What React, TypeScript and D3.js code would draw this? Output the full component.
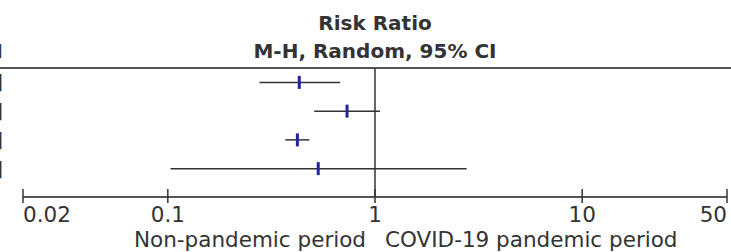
import React, { useEffect, useRef } from "react";
import * as d3 from "d3";

const studies = ["Study 1", "Study 2", "Study 3", "Study 4"];
const estimate = [0.431, 0.733, 0.422, 0.532];
const lower = [0.277, 0.509, 0.369, 0.103];
const upper = [0.679, 1.057, 0.482, 2.77];
const tickValues = [0.02, 0.1, 1, 10, 50];
const tickLabels = ["0.02", "0.1", "1", "10", "50"];
const titleLines = ["Risk Ratio", "M-H, Random, 95% CI"];
const favourLeft = "Non-pandemic period";
const favourRight = "COVID-19 pandemic period";

const W = 731;
const H = 252;

export default function App() {
  const ref = useRef<SVGSVGElement>(null);

  useEffect(() => {
    const svg = d3.select(ref.current);
    svg.selectAll("*").remove();
    const font = "'DejaVu Sans', Verdana, sans-serif";
    const fs = 21.5;

    const x = d3.scaleLog().domain([0.02, 50]).range([23, 727]);
    const y = d3.scaleBand().domain(studies).range([68, 183]).padding(0);
    const rowY = (d: string) => y(d)! + y.bandwidth() / 2;

    // header
    svg.selectAll(".title").data(titleLines).join("text").attr("class", "title")
      .attr("x", x(1)).attr("y", (d, i) => 30 + i * 28).attr("text-anchor", "middle")
      .attr("font-family", font).attr("font-weight", "bold").attr("font-size", 20).attr("fill", "#333")
      .text(d => d);
    // cut-off text of the previous column
    svg.append("text").attr("x", 3).attr("y", 58).attr("text-anchor", "end")
      .attr("font-family", font).attr("font-weight", "bold").attr("font-size", 20).attr("fill", "#333").text("95% CI");
    svg.selectAll(".cut").data(studies).join("text").attr("class", "cut")
      .attr("x", 3).attr("y", d => rowY(d) + 7).attr("text-anchor", "end")
      .attr("font-family", font).attr("font-size", 20).attr("fill", "#333").text("]");

    svg.append("line").attr("x1", 0).attr("x2", W).attr("y1", 68).attr("y2", 68)
      .attr("stroke", "#555").attr("stroke-width", 2);

    // line of no effect
    svg.append("line").attr("x1", x(1)).attr("x2", x(1)).attr("y1", 68).attr("y2", 197)
      .attr("stroke", "#333").attr("stroke-width", 1.5);

    // CIs
    svg.selectAll(".ci").data(studies).join("line").attr("class", "ci")
      .attr("x1", (d, i) => x(lower[i])).attr("x2", (d, i) => x(upper[i]))
      .attr("y1", d => rowY(d)).attr("y2", d => rowY(d))
      .attr("stroke", "#333").attr("stroke-width", 1.5);
    svg.selectAll(".pt").data(studies).join("rect").attr("class", "pt")
      .attr("x", (d, i) => x(estimate[i]) - 1.5).attr("y", d => rowY(d) - 6.5)
      .attr("width", 3).attr("height", 13).attr("fill", "#24249a");

    // axis
    const axis = svg.append("g");
    axis.append("line").attr("x1", x(0.02)).attr("x2", x(50)).attr("y1", 197).attr("y2", 197)
      .attr("stroke", "#555").attr("stroke-width", 2);
    axis.selectAll(".tk").data(tickValues).join("line").attr("class", "tk")
      .attr("x1", d => x(d)).attr("x2", d => x(d)).attr("y1", 189).attr("y2", 203)
      .attr("stroke", "#333").attr("stroke-width", 1.5);
    axis.selectAll(".tl").data(tickValues).join("text").attr("class", "tl")
      .attr("x", d => x(d)).attr("y", 222)
      .attr("text-anchor", (d, i) => (i === 0 ? "start" : i === tickValues.length - 1 ? "end" : "middle"))
      .attr("font-family", font).attr("font-size", fs).attr("fill", "#333")
      .text((d, i) => tickLabels[i]);

    svg.append("text").attr("x", x(1) - 9).attr("y", 247).attr("text-anchor", "end")
      .attr("font-family", font).attr("font-size", fs).attr("fill", "#333").text(favourLeft);
    svg.append("text").attr("x", x(1) + 10).attr("y", 247).attr("text-anchor", "start")
      .attr("font-family", font).attr("font-size", fs).attr("fill", "#333").text(favourRight);
  }, []);

  return (
    <svg ref={ref} width={W} height={H} style={{ position: "absolute", left: 0, top: 0, background: "#fff" }} />
  );
}
